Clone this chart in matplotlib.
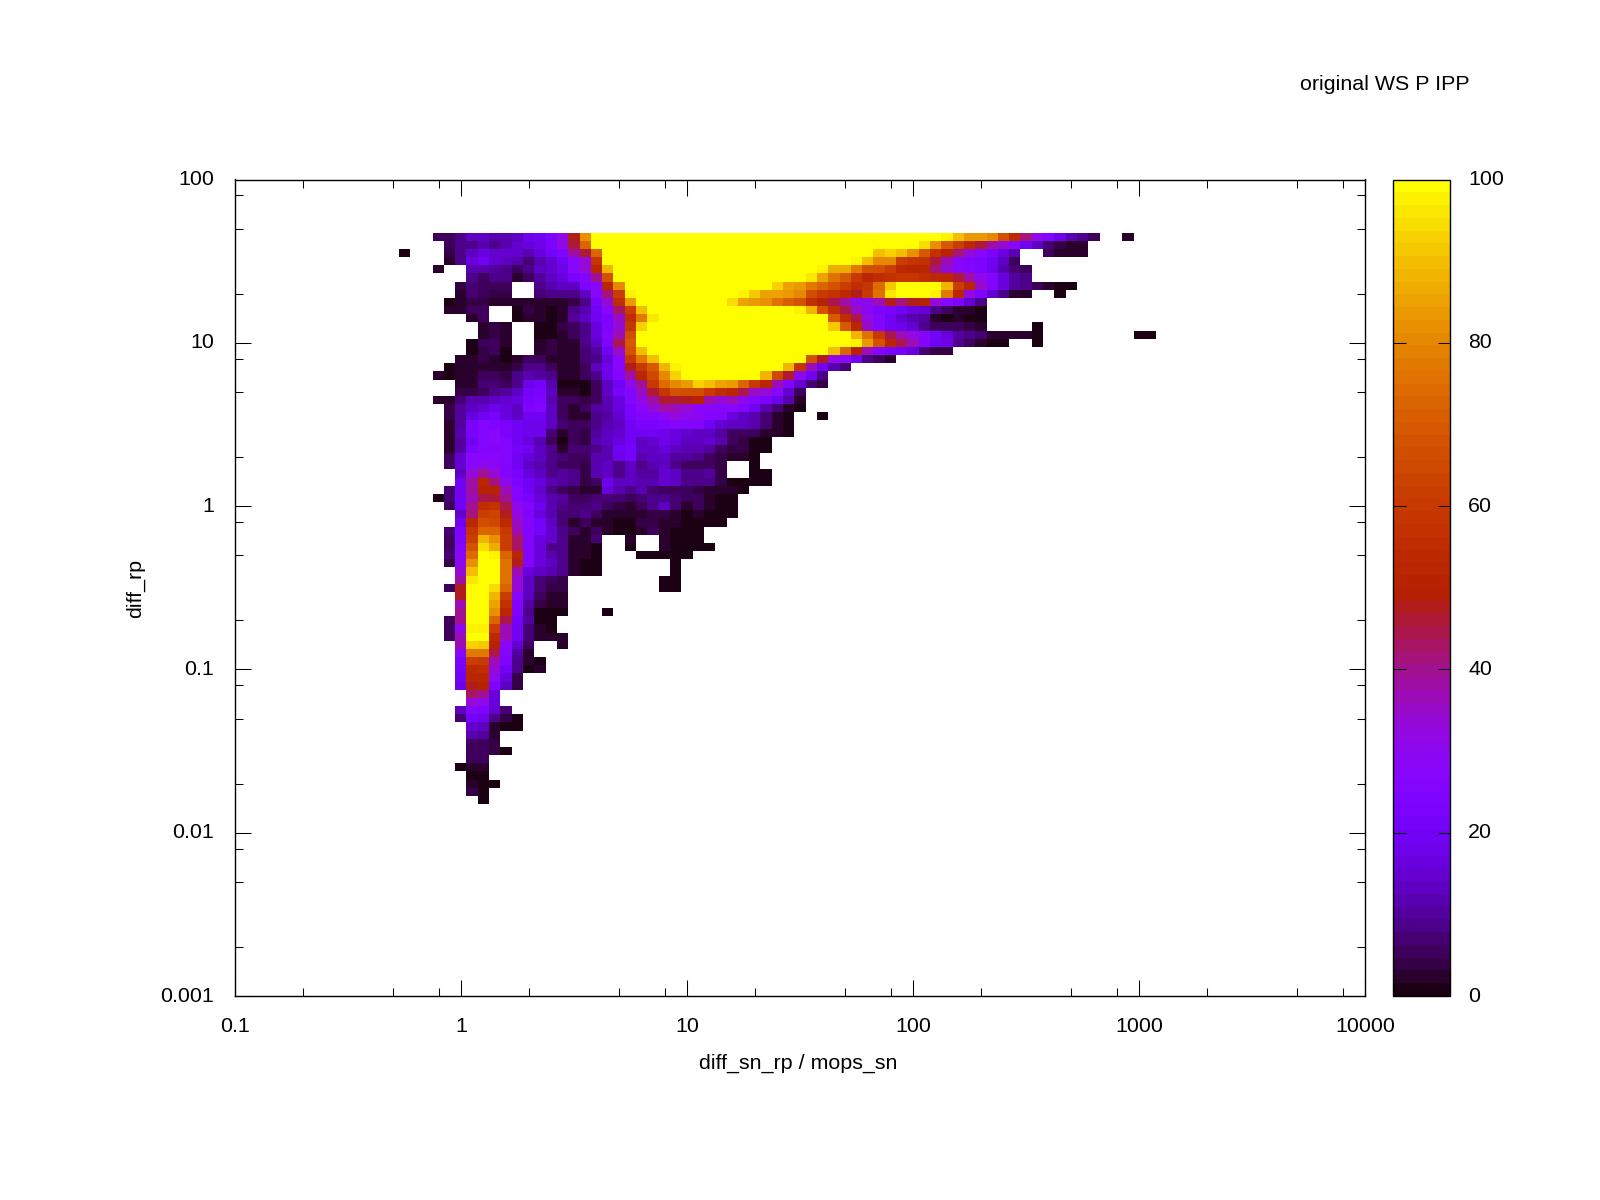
import numpy as np
import matplotlib
matplotlib.use("Agg")
import matplotlib.pyplot as plt
from matplotlib.colors import ListedColormap
from matplotlib.ticker import FixedLocator, LogLocator, NullFormatter
from matplotlib.transforms import ScaledTranslation

plt.rcParams["font.family"] = ["Liberation Sans", "DejaVu Sans"]
FS = 15.4

# -------------------------
# Data: one list per row of the grid, top row first. None = no cell
# row_start is the column of the first value in each row
# -------------------------
row_00 = [5,5,8,14,14,11,11,14,18,20,24,32,47,82,100,100,100,100,100,100,100,100,100,100,100,100,100,100,100,100,100,100,100,100,100,100,100,100,100,100,100,100,100,100,100,97,90,84,84,80,67,54,42,30,25,18,11,8,5,None,None,3]
row_01 = [6,8,9,12,9,11,15,16,18,22,32,46,72,100,100,100,100,100,100,100,100,100,100,100,100,100,100,100,100,100,100,100,100,100,100,100,100,100,100,100,100,100,95,82,70,62,54,46,38,33,27,20,13,7,4,3,3]
row_02 = [1,None,None,None,4,8,13,17,15,15,15,11,16,21,24,39,46,72,100,100,100,100,100,100,100,100,100,100,100,100,100,100,100,100,100,100,100,100,100,100,100,100,90,93,90,82,70,57,51,42,33,27,22,16,11,None,None,5,2,3,2]
row_03 = [3,8,16,19,15,14,11,7,11,15,19,27,33,58,100,100,100,100,100,100,100,100,100,100,100,100,100,100,100,100,100,100,100,100,100,100,97,90,80,80,62,58,57,46,36,27,26,24,19,13,6]
row_04 = [3,None,None,12,12,10,8,6,8,13,15,18,27,33,52,89,100,100,100,100,100,100,100,100,100,100,100,100,100,100,100,100,100,100,98,87,87,78,68,66,62,54,53,53,42,33,27,26,24,18,12,7,5]
row_05 = [8,6,8,8,2,5,10,14,17,22,26,40,68,100,100,100,100,100,100,100,100,100,100,100,100,100,100,100,100,100,96,85,75,70,60,52,55,57,58,58,55,54,52,46,39,30,25,17,10,8]
row_06 = [4,7,5,5,5,None,None,9,12,13,14,24,28,52,80,100,100,100,100,100,100,100,100,100,100,100,100,100,93,85,84,78,72,68,62,55,58,74,92,100,100,100,100,88,62,52,35,25,17,10,9,5,2,1,1]
row_07 = [3,7,5,4,4,None,None,7,8,8,8,14,28,42,62,97,100,100,100,100,100,100,100,100,100,98,92,85,85,83,80,67,60,57,54,48,60,75,96,100,100,100,97,78,52,32,24,15,8,3,3,None,None,1]
row_08 = [1,2,4,4,3,2,2,3,3,3,3,4,8,23,33,55,83,100,100,100,100,100,100,100,100,95,85,84,82,76,71,68,56,50,44,38,31,30,37,48,42,47,50,34,28,24,15,9]
row_09 = [2,3,5,5,None,None,1,4,3,1.5,3,9,12,20,28,43,62,90,100,100,100,100,100,100,100,100,100,100,100,100,100,97,88,68,55,45,35,29,24,22,19,17,15,9,6,3,2,1.5]
row_10 = [3,5,None,None,1.5,3,2,1,2,10,14,20,24,35,55,78,96,100,100,100,100,100,100,100,100,100,100,100,100,100,100,100,70,55,45,32,25,20,15,12,10,3,0.5,2,1.5,1]
row_11 = [3,4,3,None,None,1.5,1.5,4,6,9,17,24,33,58,93,100,100,100,100,100,100,100,100,100,100,100,100,100,100,100,100,92,70,53,35,25,20,18,15,9,5,5,5,4,2,None,None,None,None,1]
row_12 = [3,4,3,None,None,0.5,1,2.5,5,8,16,26,36,66,100,100,100,100,100,100,100,100,100,100,100,100,100,100,100,100,100,100,100,88,75,60,44,37,32,26,21,17,10,9,7,3,3,3,2,1,None,None,None,None,None,None,None,None,0.5,0.5]
row_13 = [1.5,5,6,3,None,None,3,4,2.5,3,9,13,24,44,70,100,100,100,100,100,100,100,100,100,100,100,100,100,100,100,100,100,100,100,97,83,68,52,44,36,25,20,18,9,6,3,1,1.5,None,None,1]
row_14 = [1.5,4,5,1,None,None,3,4,2,3,7,10,20,35,68,90,100,100,100,100,100,100,100,100,100,100,100,100,100,100,100,100,90,73,50,36,26,22,21,17,7,3.5,3.5]
row_15 = [2,2.5,4,3,1.5,2,5,5,3,2,3,7,9,17,28,60,78,90,100,100,100,100,100,100,100,100,100,100,100,100,100,68,47,32,27,19,9,5,2]
row_16 = [0.5,2,3,3,2.5,2.5,3.5,8,9,6,2,2,5,13,18,28,47,60,70,88,98,100,100,100,100,100,100,100,100,100,88,58,36,20,12,7]
row_17 = [3,1,2,2.5,6,5,4.5,8,11,10,8,2.5,2,5,9,18,25,38,52,65,80,93,100,100,100,100,100,100,100,89,65,46,30,20,9]
row_18 = [2,3,7,7,5,8,18,21,11,1,1,1.5,6,13,20,30,40,60,74,80,84,93,90,85,84,72,60,52,36,25,15,7,4]
row_19 = [4,4,6,9,10,13,21,23,13,2,2,1.5,5,13,22,26,35,46,58,68,66,66,60,55,53,45,35,33,27,15,6]
row_20 = [3,3,7,12,11,14,15,16,22,24,12,6,5,4,6,12,17,25,32,38,46,46,47,51,38,33,36,30,25,22,18,12,3]
row_21 = [4,10,14,15,18,16,14,24,26,13,5,3,5,10,11,16,23,27,33,38,37,33,28,28,27,27,26,20,12,7,2.5,0.5]
row_22 = [3.5,10,16,19,22,16,14,20,20,13,5,2,3,9,10,15,23,25,25,29,33,30,29,26,26,17,14,12,7,2.5,1.5,None,None,0.5]
row_23 = [3,10,22,26,24,22,20,18,18,13,7,5,5,8,11,13,19,22,22,24,26,25,25,20,15,13,13,12,7,3,1.5]
row_24 = [3,11,22,26,27,23,20,18,18,7,3,5,4.5,10,14,15,20,20,20,18,17,15,14,14,10,6,5,5,3,2,1.5]
row_25 = [3,10,20,25,27,25,19,17,12,5,1,5,4,11,14,16,19,14,15,18,16,14,14,15,12,5,4,1,1]
row_26 = [3,10,22,25,25,25,21,19,13,8,3,7,7,9,12,19,21,13,13,16,14,12,12,10,6,4,3.5,1.5,1.5]
row_27 = [6,15,27,28,28,26,20,17,13,8,7,5,5,12,12,18,21,12,13,13,10,10,9,5.5,4,3,2.5,1]
row_28 = [5,15,27,30,29,25,19,13,12,9,6,5,3.5,12,13,9,13,8,11,13,9,6,6,6,3.5,None,None,1]
row_29 = [14,34,40,34,25,22,16,14,9,10,8,4,12,13,9,13,10,10,15,13,9,9,10,3.5,None,None,1,1]
row_30 = [20,38,53,42,30,24,20,16,11,10,9,3.5,6,18,13,13,11,12,15,13,9,9,8,3.5,1,0.8,0.8,1.5]
row_31 = [7,20,38,50,50,36,25,20,15,8,6,4,3,3,16,12,8,11,7,5,5,5,4,2.5,2.5,2.5,1.5]
row_32 = [0.5,7,19,37,45,46,40,26,23,17,12,10,5,5,7,7,7,6,7,8,8,7,5,5,2,0.7,1]
row_33 = [6,20,40,56,57,45,31,25,18,11,9,7,7,9,6,4,2.5,5,8,13,7,3,5,3,0.5,0.7]
row_34 = [15,42,62,64,48,32,24,16,12,7,7,8,5,3,2,2.5,2.5,4,4,2,1.5,2.5,1,0.7,1]
row_35 = [19,52,67,65,54,35,25,21,13,7,3,5,3,2,1,1.5,4,4,3,2,1.5,1,1,1]
row_36 = [7,23,58,72,72,60,36,26,21,15,8,6,3,6,2,1,1.5,3,5,2.5,1,1,1]
row_37 = [5,24,62,89,82,62,43,25,17,15,8,2.5,2,7,None,None,2,None,None,3,1,1,1]
row_38 = [5,26,68,94,87,62,43,25,17,8,8,2.5,3,1.5,None,None,1.5,None,None,3,1,1,1.5,0.8]
row_39 = [7,28,74,99,97,72,52,25,17,11,8,3,2,1,None,None,None,1,1,1,1,1]
row_40 = [4,30,82,100,100,75,47,25,16,14,8,2,1.5,1.5,None,None,None,None,None,None,1]
row_41 = [33,90,100,100,75,36,17,13,12,8,3,1,1.5,None,None,None,None,None,None,1]
row_42 = [38,96,100,100,75,34,13,7,5,4,None,None,None,None,None,None,None,None,0.5,1]
row_43 = [6,47,100,100,95,72,34,14,7,4,4,None,None,None,None,None,None,None,None,0.2,0.5]
row_44 = [47,100,100,88,62,28,14,6,3,3]
row_45 = [36,100,100,85,57,24,10,4.5,2.5,2.5]
row_46 = [40,100,100,82,53,24,9,1.5,1,1,None,None,None,0.5]
row_47 = [6,40,100,100,72,45,21,10,1.5,0.5]
row_48 = [6,30,98,98,62,36,20,7,2,1.5]
row_49 = [6,36,100,100,54,36,20,7,3,3,2]
row_50 = [36,93,92,50,27,15,6,None,None,2]
row_51 = [28,78,78,44,25,10,3]
row_52 = [22,62,60,37,24,9,2,1]
row_53 = [21,54,55,33,20,9,1,2]
row_54 = [20,52,52,31,16,4]
row_55 = [18,47,50,24,14,4]
row_56 = [43,40,17]
row_57 = [34,30,16]
row_58 = [14,26,24,15,7]
row_59 = [7,21,18,8,3.5,1]
row_60 = [15,14,3,1.5,1]
row_61 = [11,10,3]
row_62 = [5,5,4]
row_63 = [5,6,3.5,1.5]
row_64 = [5,6]
row_65 = [0.7,2,2.5]
row_66 = [0.8,1.5]
row_67 = [3,1.5,0.5]
row_68 = [3.5,1.5]
row_69 = [0.8]

row_start = [0,1,-3,1,0,3,2,2,1,1,
             3,4,4,3,3,2,1,0,2,2,
             0,1,1,1,1,1,1,1,1,2,
             2,1,0,1,2,2,1,1,1,1,
             1,2,2,1,2,2,2,1,1,1,
             2,2,2,2,2,2,3,3,2,2,
             3,3,3,3,3,2,3,3,3,4]

rows = [row_00,row_01,row_02,row_03,row_04,row_05,row_06,row_07,row_08,row_09,
        row_10,row_11,row_12,row_13,row_14,row_15,row_16,row_17,row_18,row_19,
        row_20,row_21,row_22,row_23,row_24,row_25,row_26,row_27,row_28,row_29,
        row_30,row_31,row_32,row_33,row_34,row_35,row_36,row_37,row_38,row_39,
        row_40,row_41,row_42,row_43,row_44,row_45,row_46,row_47,row_48,row_49,
        row_50,row_51,row_52,row_53,row_54,row_55,row_56,row_57,row_58,row_59,
        row_60,row_61,row_62,row_63,row_64,row_65,row_66,row_67,row_68,row_69]

x_ticks = [0.1, 1, 10, 100, 1000, 10000]
x_labels = ["0.1", "1", "10", "100", "1000", "10000"]
y_ticks = [0.001, 0.01, 0.1, 1, 10, 100]
y_labels = ["0.001", "0.01", "0.1", "1", "10", "100"]
cb_ticks = [0, 20, 40, 60, 80, 100]

# -------------------------
# Grid (20 bins per decade)
# -------------------------
FIRST_COL = -3
n_cols = 67
grid = np.full((len(rows), n_cols), np.nan)
for r, values in enumerate(rows):
    for i, v in enumerate(values):
        if v is not None:
            grid[r, row_start[r] - FIRST_COL + i] = v

x_edges = 10 ** (-0.275 + 0.05 * np.arange(n_cols + 1))
y_edges = 10 ** (1.675 - 0.05 * np.arange(len(rows) + 1))

# gnuplot default pm3d palette (rgbformulae 7,5,15), 64 steps
t = np.linspace(0.012, 1, 64)
palette = np.column_stack([np.sqrt(t), t ** 3, np.clip(np.sin(2 * np.pi * t), 0, 1)])
cmap = ListedColormap(palette)

# -------------------------
# Plot
# -------------------------
W, H = 1600, 1200
fig = plt.figure(figsize=(16, 12), dpi=100)
L, R, T, B = 234.7, 1365.3, 179.5, 996.0
ax = fig.add_axes([L / W, 1 - B / H, (R - L) / W, (B - T) / H])
mesh = ax.pcolormesh(x_edges, y_edges, grid, cmap=cmap, vmin=0, vmax=100,
                     shading="flat", antialiased=False, linewidth=0)

ax.set_xscale("log")
ax.set_yscale("log")
ax.set_xlim(0.1, 10000)
ax.set_ylim(0.001, 100)

for axis, ticks, labels in ((ax.xaxis, x_ticks, x_labels), (ax.yaxis, y_ticks, y_labels)):
    axis.set_major_locator(FixedLocator(ticks))
    axis.set_ticklabels(labels)
    axis.set_minor_locator(LogLocator(base=10, subs=(2, 5, 8), numticks=20))
    axis.set_minor_formatter(NullFormatter())

ax.tick_params(which="major", direction="in", length=11.8, width=0.75, top=True, right=True,
               labelsize=FS)
ax.tick_params(which="minor", direction="in", length=6, width=0.75, top=True, right=True)
ax.tick_params(axis="x", which="major", pad=15)
ax.tick_params(axis="y", which="major", pad=15)
for s in ax.spines.values():
    s.set_linewidth(1.0)

# the tick at 100 lies on the top border, no need to draw it
top_tick = ax.yaxis.get_major_ticks()[-1]
top_tick.tick1line.set_visible(False)
top_tick.tick2line.set_visible(False)

# colour box
cax = fig.add_axes([1393.3 / W, 1 - B / H, (1450.3 - 1393.3) / W, (B - T) / H])
cb = fig.colorbar(mesh, cax=cax)
cb.set_ticks(cb_ticks)
cb.ax.tick_params(direction="in", length=9, width=0.75, left=True, right=True,
                  labelsize=FS, pad=13)
cb.outline.set_linewidth(1.0)
cb.solids.set_antialiased(False)
for tick in (cax.yaxis.get_major_ticks()[0], cax.yaxis.get_major_ticks()[-1]):
    tick.tick1line.set_visible(False)
    tick.tick2line.set_visible(False)

# y labels sit about 2 px above their ticks
up = ScaledTranslation(0, 2 / 100, fig.dpi_scale_trans)
for lab in list(ax.get_yticklabels()) + list(cax.get_yticklabels()):
    lab.set_transform(lab.get_transform() + up)

fig.text(798 / W, 1 - 1063 / H, "diff_sn_rp / mops_sn", ha="center", va="center", fontsize=FS)
fig.text(135 / W, 1 - 588 / H, "diff_rp", ha="center", va="center", rotation=90, fontsize=FS)
fig.text(1470 / W, 1 - 84 / H, "original WS P IPP", ha="right", va="center", fontsize=FS)

fig.savefig("out.png", dpi=100)
plt.close(fig)
